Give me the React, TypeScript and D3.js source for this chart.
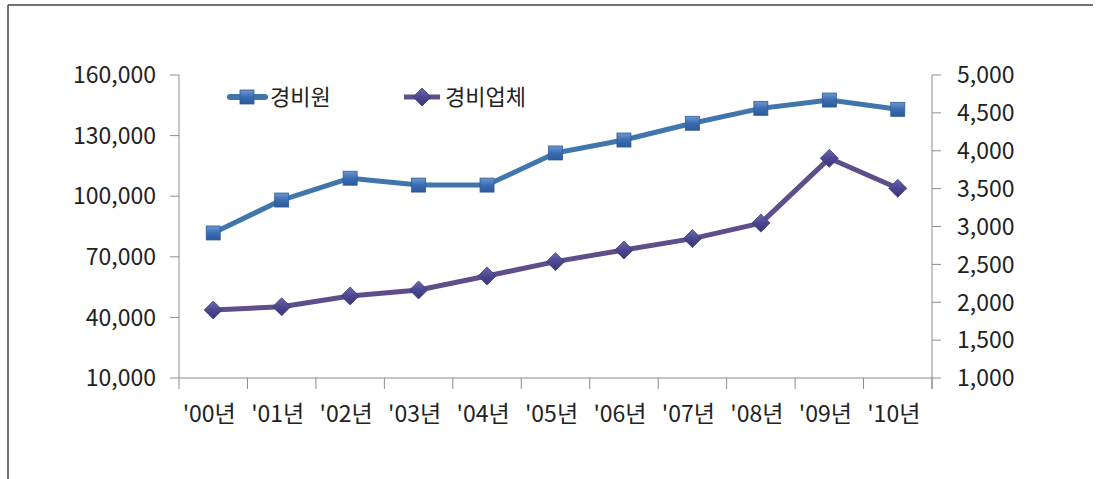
import React from "react";
import * as d3 from "d3";

const categories = ["'00년", "'01년", "'02년", "'03년", "'04년", "'05년", "'06년", "'07년", "'08년", "'09년", "'10년"];
const guards = [81800, 98100, 108900, 105500, 105500, 121400, 127800, 136100, 143500, 147600, 143000];
const companies = [1898, 1941, 2083, 2162, 2347, 2536, 2690, 2840, 3045, 3900, 3504];
const leftTicks = [10000, 40000, 70000, 100000, 130000, 160000];
const rightTicks = [1000, 1500, 2000, 2500, 3000, 3500, 4000, 4500, 5000];
const seriesNames = ["경비원", "경비업체"];

const W = 1098, H = 479;
const M = { left: 179, right: 932, top: 75, bottom: 378 };
const FONT = "'Noto Sans CJK KR', 'Noto Sans', sans-serif";
const BLUE = "#4176ad";
const PURPLE = "#5e4f8a";
const AXIS = "#8c8c8c";
const FS = 23;

export default function App() {
  const x = d3.scaleBand<string>().domain(categories).range([M.left, M.right]).padding(0);
  const yL = d3.scaleLinear().domain([10000, 160000]).range([M.bottom, M.top]);
  const yR = d3.scaleLinear().domain([1000, 5000]).range([M.bottom, M.top]);
  const fmt = d3.format(",");
  const cx = (c: string) => (x(c) as number) + x.bandwidth() / 2;

  const lineL = d3.line<number>().x((_, i) => cx(categories[i])).y((d) => yL(d));
  const lineR = d3.line<number>().x((_, i) => cx(categories[i])).y((d) => yR(d));

  const boundaries = categories.map((c) => x(c) as number).concat([M.right]);

  const square = (px: number, py: number, key: string | number) => (
    <rect key={key} x={px - 7} y={py - 7} width={14} height={14} fill="url(#gSq)" stroke="#2f5d94" strokeWidth={0.8} />
  );
  const diamond = (px: number, py: number, key: string | number) => (
    <path key={key} d={`M${px},${py - 9}L${px + 9},${py}L${px},${py + 9}L${px - 9},${py}Z`} fill="url(#gDi)" stroke="#3f3a78" strokeWidth={0.8} />
  );

  return (
    <svg width={W} height={H} style={{ position: "absolute", left: 0, top: 0 }} fontFamily={FONT}>
      <defs>
        <linearGradient id="gSq" x1="0" y1="0" x2="0" y2="1">
          <stop offset="0" stopColor="#6d97d0" />
          <stop offset="0.5" stopColor="#3b6cb4" />
          <stop offset="1" stopColor="#2c5a9a" />
        </linearGradient>
        <linearGradient id="gDi" x1="0" y1="0" x2="0" y2="1">
          <stop offset="0" stopColor="#6f6bb0" />
          <stop offset="0.5" stopColor="#4a4690" />
          <stop offset="1" stopColor="#3a3678" />
        </linearGradient>
      </defs>
      <rect x={0} y={0} width={W} height={H} fill="#fff" />
      {/* frame */}
      <line x1={8} y1={5} x2={1093} y2={5} stroke="#444" strokeWidth={1.5} />
      <line x1={8} y1={5} x2={8} y2={H} stroke="#444" strokeWidth={1.5} />

      {/* left axis */}
      <line x1={M.left} y1={M.top} x2={M.left} y2={M.bottom} stroke={AXIS} strokeWidth={1} />
      {leftTicks.map((t) => (
        <g key={"l" + t}>
          <line x1={M.left - 9} x2={M.left} y1={yL(t)} y2={yL(t)} stroke={AXIS} />
          <text x={156} y={yL(t)} dy="0.36em" textAnchor="end" fontSize={FS} fill="#222">{fmt(t)}</text>
        </g>
      ))}
      {/* right axis */}
      <line x1={M.right} y1={M.top} x2={M.right} y2={M.bottom + 11} stroke={AXIS} strokeWidth={1} />
      {rightTicks.map((t) => (
        <g key={"r" + t}>
          <line x1={M.right} x2={M.right + 9} y1={yR(t)} y2={yR(t)} stroke={AXIS} />
          <text x={957} y={yR(t)} dy="0.36em" textAnchor="start" fontSize={FS} fill="#222">{fmt(t)}</text>
        </g>
      ))}
      {/* x axis */}
      <line x1={M.left} x2={M.right} y1={M.bottom} y2={M.bottom} stroke={AXIS} />
      {boundaries.map((b, i) => (
        <line key={"b" + i} x1={b} x2={b} y1={M.bottom} y2={M.bottom + 11} stroke={AXIS} />
      ))}
      {categories.map((c) => (
        <text key={c} x={cx(c) - 4} y={414} dy="0.36em" textAnchor="middle" fontSize={FS} fill="#222">{c}</text>
      ))}

      {/* series */}
      <path d={lineL(guards) || ""} fill="none" stroke={BLUE} strokeWidth={5} strokeLinejoin="round" />
      <path d={lineR(companies) || ""} fill="none" stroke={PURPLE} strokeWidth={5} strokeLinejoin="round" />
      {guards.map((v, i) => square(cx(categories[i]), yL(v), "s" + i))}
      {companies.map((v, i) => diamond(cx(categories[i]), yR(v), "d" + i))}

      {/* legend */}
      <line x1={230} x2={265} y1={97} y2={97} stroke={BLUE} strokeWidth={6} strokeLinecap="round" />
      {square(247, 97, "ls")}
      <text x={270} y={97} dy="0.36em" fontSize={22} fill="#222">{seriesNames[0]}</text>
      <line x1={404} x2={440} y1={97} y2={97} stroke={PURPLE} strokeWidth={5} />
      {diamond(422, 97, "ld")}
      <text x={445} y={97} dy="0.36em" fontSize={22} fill="#222">{seriesNames[1]}</text>
    </svg>
  );
}
